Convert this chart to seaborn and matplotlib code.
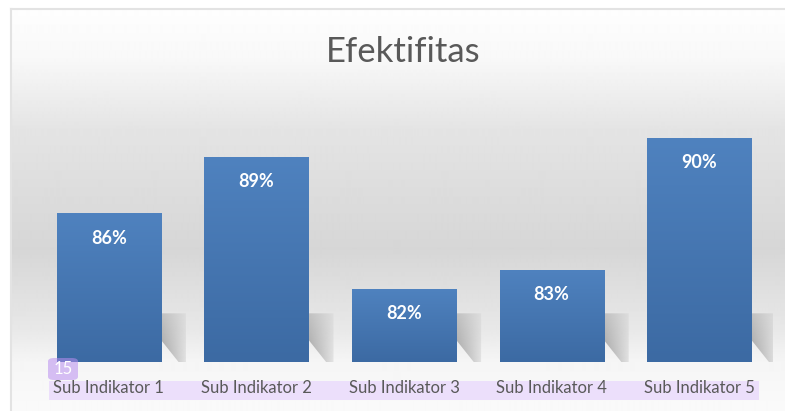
import numpy as np
import pandas as pd
import matplotlib
matplotlib.use("Agg")
import matplotlib.pyplot as plt
from matplotlib.patches import Polygon, FancyBboxPatch, Rectangle
import seaborn as sns

categories = ["Sub Indikator 1", "Sub Indikator 2", "Sub Indikator 3", "Sub Indikator 4", "Sub Indikator 5"]
values = [86, 89, 82, 83, 90]
value_labels = ["86%", "89%", "82%", "83%", "90%"]
title = "Efektifitas"
badge_text = "15"

sns.set_theme(style="white")
plt.rcParams["font.family"] = ["Lato", "DejaVu Sans"]

W, H = 785, 411
fig = plt.figure(figsize=(W / 100, H / 100), dpi=100)
fig.patch.set_facecolor("white")

# chart frame with vertical grey gradient
bg = fig.add_axes([11 / W, 0, 1 - 11 / W, (H - 9) / H], zorder=-2)
ys = np.array([9, 60, 130, 250, 330, 362, 411])
gs = np.array([254, 248, 228, 214, 232, 245, 250]) / 255
yy = np.arange(9, 412)
grad = np.interp(yy, ys, gs)[:, None]
bg.imshow(np.repeat(grad, 2, axis=1), cmap="gray", vmin=0, vmax=1, aspect="auto",
          extent=[0, 1, 0, 1], interpolation="bilinear")
bg.set_xticks([])
bg.set_yticks([])
for side in ["right", "bottom"]:
    bg.spines[side].set_visible(False)
for side in ["left", "top"]:
    bg.spines[side].set_color("#e3e3e3")
    bg.spines[side].set_linewidth(1.5)

# lavender highlight behind tick labels
fig.patches.append(Rectangle((49 / W, 1 - 400 / H), (759 - 49) / W, 19 / H,
                             transform=fig.transFigure, facecolor="#ecdffb",
                             edgecolor="none", zorder=-1))

ax = fig.add_axes([35 / W, (H - 362) / H, (773 - 35) / W, (362 - 100) / H])
ax.patch.set_alpha(0)
df = pd.DataFrame({"cat": categories, "val": values})
sns.barplot(data=df, x="cat", y="val", ax=ax, color="#4a7ab6", width=0.705,
            saturation=1, edgecolor="#6d95c8", linewidth=0.6, zorder=3)
ylim = (78.12, 92)
ax.set_ylim(*ylim)

# soft shadows to the right of each bar + gradient fill of the bars
base = ylim[0]
bar_cmap = matplotlib.colors.LinearSegmentedColormap.from_list("b", ["#3c6aa3", "#4f82bf"])
sh = np.zeros((60, 60, 4))
sx, sy = np.meshgrid(np.linspace(0, 1, 60), np.linspace(0, 1, 60))
sh[..., :3] = 0.5
sh[..., 3] = np.clip(0.7 * (1 - 0.8 * sx) * (0.5 + 0.5 * sy), 0, 1)
for p in ax.patches:
    xr = p.get_x() + p.get_width()
    shadow = Polygon([(xr, 80.7), (xr + 0.17, 80.7), (xr + 0.17, base), (xr + 0.12, base),
                      (xr, 79.3)], closed=True, facecolor="none", edgecolor="none")
    ax.add_patch(shadow)
    sim = ax.imshow(sh, aspect="auto", extent=[xr, xr + 0.17, base, 80.7],
                    zorder=2, interpolation="bilinear")
    sim.set_clip_path(shadow)
    top = p.get_y() + p.get_height()
    g = np.linspace(0, 1, 100)[:, None]
    im = ax.imshow(g, cmap=bar_cmap, aspect="auto", origin="lower",
                   extent=[p.get_x(), xr, base, top], zorder=3.5, interpolation="bilinear")
    im.set_clip_path(p)
ax.set_xlim(-0.5, len(categories) - 0.5)
ax.set_ylim(*ylim)

ax.bar_label(ax.containers[0], labels=value_labels, label_type="edge", padding=-24,
             color="white", fontsize=13, fontweight="bold", zorder=5)

ax.set_xlabel("")
ax.set_ylabel("")
ax.set_yticks([])
ax.tick_params(axis="x", length=0, pad=13, labelsize=12, labelcolor="#595959")
sns.despine(ax=ax, left=True, bottom=True)

fig.text(403 / W, 1 - 52 / H, title, ha="center", va="center", fontsize=25, color="#595959")

# small badge
fig.patches.append(FancyBboxPatch((48 / W, 1 - 380 / H), 30 / W, 22 / H,
                                  boxstyle="round,pad=0,rounding_size=0.008",
                                  transform=fig.transFigure, facecolor="#b98ef0",
                                  alpha=0.55, edgecolor="none", zorder=10))
fig.text(63 / W, 1 - 369 / H, badge_text, ha="center", va="center", fontsize=12,
         color="white", zorder=11)

fig.savefig("out.png", dpi=100)
